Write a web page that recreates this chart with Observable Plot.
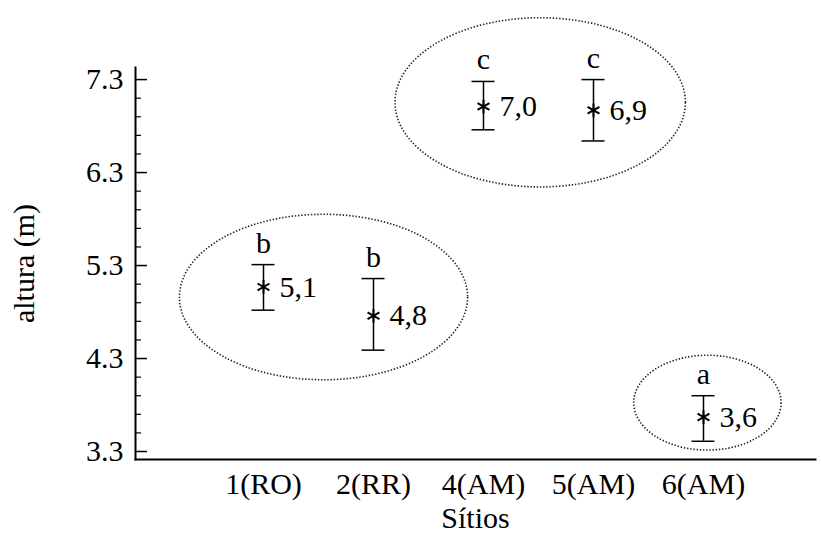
<!DOCTYPE html>
<html>
<head>
<meta charset="utf-8">
<script src="https://cdn.jsdelivr.net/npm/d3@7"></script>
<script src="https://cdn.jsdelivr.net/npm/@observablehq/plot@0.6"></script>
<style>
  html, body { margin: 0; padding: 0; background: #fff; }
  #chart svg, #chart svg text { font-family: "Liberation Serif", "Times New Roman", serif !important; }
  #chart svg { font-size: 30px !important; }
</style>
</head>
<body>
<div id="chart"></div>
<script>
// ---- data ----
const sites = ["1(RO)", "2(RR)", "4(AM)", "5(AM)", "6(AM)"];
const means = [5.07, 4.76, 7.01, 6.97, 3.67];
const lows = [4.82, 4.39, 6.76, 6.64, 3.41];
const highs = [5.31, 5.16, 7.28, 7.30, 3.90];
const meanLabels = ["5,1", "4,8", "7,0", "6,9", "3,6"];
const groupLetters = ["b", "b", "c", "c", "a"];

const yTicks = [3.3, 4.3, 5.3, 6.3, 7.3];
const yMinorTicks = [3.5, 3.7, 3.9, 4.1, 4.5, 4.7, 4.9, 5.1, 5.5, 5.7, 5.9, 6.1, 6.5, 6.7, 6.9, 7.1];

// ellipses grouping sites (center as fractional site index, radius in site steps; y in metres)
const ellipseCenterIndex = [0.55, 2.52, 4.04];
const ellipseRadiusSteps = [1.31, 1.32, 0.67];
const ellipseCenterY = [4.956, 7.05, 3.82];
const ellipseRadiusY = [0.89, 0.91, 0.51];

// ---- build tables ----
const rows = sites.map((s, i) => ({
  site: s, mean: means[i], low: lows[i], high: highs[i],
  label: meanLabels[i], letter: groupLetters[i]
}));
const ellipses = ellipseCenterIndex.map((c, i) => ({
  ci: c, rs: ellipseRadiusSteps[i], cy: ellipseCenterY[i], ry: ellipseRadiusY[i]
}));

const W = 821, H = 544;
const mL = 135, mR = 6, mT = 67, mB = 85;
const frameW = W - mL - mR;
const font = "Liberation Serif, Times New Roman, serif";

function ellipseMark(index, scales) {
  const ns = "http://www.w3.org/2000/svg";
  const g = document.createElementNS(ns, "g");
  const x0 = scales.x(sites[0]);
  const step = scales.x(sites[1]) - x0;
  for (const e of ellipses) {
    const el = document.createElementNS(ns, "ellipse");
    const cx = x0 + step / 2 + e.ci * step;
    const cy = scales.y(e.cy);
    el.setAttribute("cx", cx);
    el.setAttribute("cy", cy);
    el.setAttribute("rx", e.rs * step);
    el.setAttribute("ry", Math.abs(scales.y(e.cy + e.ry) - cy));
    el.setAttribute("fill", "none");
    el.setAttribute("stroke", "#222");
    el.setAttribute("stroke-width", 1.6);
    el.setAttribute("stroke-dasharray", "1.4,1.8");
    g.appendChild(el);
  }
  return g;
}

const chart = Plot.plot({
  width: W, height: H,
  marginLeft: mL, marginRight: mR, marginTop: mT, marginBottom: mB,
  style: { fontFamily: font, fontSize: "30px", color: "#000", background: "#fff" },
  x: { type: "band", domain: sites, padding: 0, insetLeft: 71.6, insetRight: 54.6 },
  y: { domain: [3.214, 7.43] },
  marks: [
    Plot.frame({ anchor: "left", strokeWidth: 2 }),
    Plot.frame({ anchor: "bottom", strokeWidth: 2 }),
    Plot.ruleY(yTicks, { insetRight: frameW - 12, strokeWidth: 1.5 }),
    Plot.ruleY(yMinorTicks, { insetRight: frameW - 6, strokeWidth: 1.2 }),
    Plot.axisY(yTicks, {
      tickSize: 0, tickPadding: 12, tickFormat: d => d.toFixed(1), fontSize: 30,
      label: "altura (m)", labelAnchor: "center", labelOffset: 123, labelArrow: "none"
    }),
    Plot.axisX({
      tickSize: 0, tickPadding: 13, fontSize: 30,
      label: "Sítios", labelAnchor: "center", labelOffset: 68, labelArrow: "none"
    }),
    ellipseMark,
    Plot.ruleX(rows, { x: "site", y1: "low", y2: "high", strokeWidth: 1.5 }),
    Plot.tickY(rows, { x: "site", y: "high", insetLeft: 43.5, insetRight: 43.5, strokeWidth: 1.5 }),
    Plot.tickY(rows, { x: "site", y: "low", insetLeft: 43.5, insetRight: 43.5, strokeWidth: 1.5 }),
    Plot.dot(rows, { x: "site", y: "mean", symbol: "asterisk", r: 6.5, stroke: "#000", strokeWidth: 2 }),
    Plot.text(rows, { x: "site", y: "mean", text: "label", dx: 16, textAnchor: "start", fontSize: 30 }),
    Plot.text(rows, { x: "site", y: "high", text: "letter", lineAnchor: "bottom", dy: -12, fontSize: 30 })
  ]
});
document.getElementById("chart").appendChild(chart);
</script>
</body>
</html>
